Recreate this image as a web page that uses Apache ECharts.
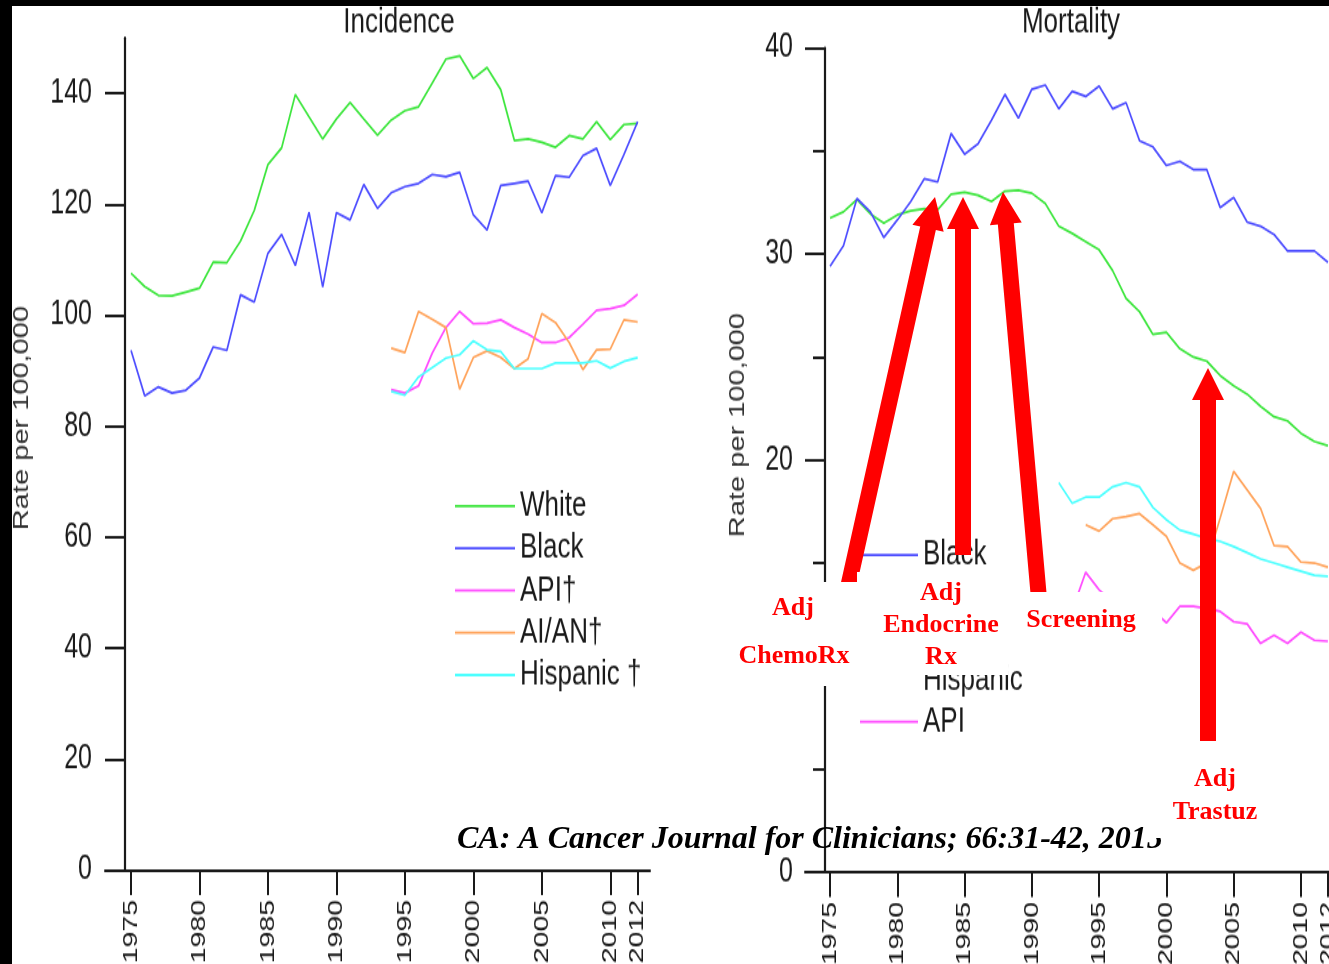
<!DOCTYPE html>
<html>
<head>
<meta charset="utf-8">
<title>Breast cancer incidence and mortality</title>
<script src="https://cdn.jsdelivr.net/npm/echarts@6/dist/echarts.min.js"></script>
<style>
  html, body { margin: 0; padding: 0; background: #fff; }
  #wrap { position: relative; width: 1329px; height: 964px; overflow: hidden; background: #fff; }
  #chart { position: absolute; left: 0; top: 0; width: 1329px; transform-origin: 0 0; }
  #notes { position: absolute; left: 0; top: 0; width: 1329px; height: 964px; }
</style>
</head>
<body>
<div id="wrap"><div id="chart"></div><div id="notes"></div></div>
<script>
// rates per 100,000
const incYears = [1975, 1976, 1977, 1978, 1979, 1980, 1981, 1982, 1983, 1984, 1985, 1986, 1987, 1988, 1989, 1990, 1991, 1992, 1993,
  1994, 1995, 1996, 1997, 1998, 1999, 2000, 2001, 2002, 2003, 2004, 2005, 2006, 2007, 2008, 2009, 2010, 2011, 2012];
const incWhite = [107.6, 105.2, 103.6, 103.5, 104.2, 104.9, 109.6, 109.5, 113.4, 118.9, 127.2, 130.2, 139.8, 135.8, 131.8, 135.4, 138.4, 135.4, 132.5,
  135.2, 136.9, 137.6, 141.9, 146.2, 146.8, 142.7, 144.7, 140.7, 131.5, 131.8, 131.2, 130.3, 132.4, 131.8, 134.9, 131.7, 134.4, 134.6];
const incBlack = [93.7, 85.5, 87.1, 86.0, 86.5, 88.7, 94.3, 93.7, 103.7, 102.4, 111.2, 114.6, 109.0, 118.6, 105.1, 118.5, 117.2, 123.6, 119.3,
  122.1, 123.2, 123.8, 125.4, 125.0, 125.8, 118.1, 115.4, 123.4, 123.8, 124.2, 118.5, 125.2, 124.9, 128.8, 130.1, 123.4, 129.0, 134.9];
const incOtherYears = [1994, 1995, 1996, 1997, 1998, 1999, 2000, 2001, 2002, 2003, 2004, 2005, 2006, 2007, 2008, 2009, 2010, 2011, 2012];
const incApi = [86.6, 86.0, 87.3, 93.2, 97.8, 100.7, 98.5, 98.6, 99.2, 97.8, 96.6, 95.1, 95.1, 96.0, 98.4, 100.9, 101.2, 101.8, 103.8];
const incAian = [94.1, 93.3, 100.7, 99.3, 97.8, 86.7, 92.4, 93.6, 92.4, 90.4, 92.2, 100.3, 98.7, 95.1, 90.2, 93.8, 93.9, 99.2, 98.8];
const incHisp = [86.3, 85.6, 88.9, 90.6, 92.3, 92.9, 95.4, 93.8, 93.5, 90.4, 90.4, 90.4, 91.4, 91.4, 91.4, 91.8, 90.5, 91.7, 92.4];

const mortYears = [1975, 1976, 1977, 1978, 1979, 1980, 1981, 1982, 1983, 1984, 1985, 1986, 1987, 1988, 1989, 1990, 1991, 1992, 1993,
  1994, 1995, 1996, 1997, 1998, 1999, 2000, 2001, 2002, 2003, 2004, 2005, 2006, 2007, 2008, 2009, 2010, 2011, 2012];
const mortWhite = [31.75, 32.05, 32.65, 31.95, 31.5, 31.9, 32.1, 32.2, 32.15, 32.9, 33.0, 32.85, 32.55, 33.05, 33.1, 32.95, 32.45, 31.35, 31.0,
  30.6, 30.2, 29.2, 27.85, 27.2, 26.1, 26.2, 25.4, 25.0, 24.8, 24.1, 23.6, 23.2, 22.6, 22.1, 21.9, 21.3, 20.9, 20.7];
const mortBlack = [29.4, 30.4, 32.7, 32.05, 30.8, 31.65, 32.55, 33.65, 33.5, 35.85, 34.85, 35.35, 36.5, 37.75, 36.6, 38.0, 38.2, 37.05, 37.9,
  37.65, 38.15, 37.05, 37.35, 35.5, 35.2, 34.3, 34.5, 34.1, 34.1, 32.25, 32.75, 31.55, 31.35, 30.95, 30.15, 30.15, 30.15, 29.6];
const mortHispYears = [1992, 1993, 1994, 1995, 1996, 1997, 1998, 1999, 2000, 2001, 2002, 2003, 2004, 2005, 2006, 2007, 2008, 2009, 2010, 2011, 2012];
const mortHisp = [18.9, 17.9, 18.2, 18.2, 18.7, 18.9, 18.7, 17.7, 17.1, 16.6, 16.4, 16.2, 16.05, 15.8, 15.5, 15.2, 15.0, 14.8, 14.6, 14.4, 14.35];
const mortAianYears = [1994, 1995, 1996, 1997, 1998, 1999, 2000, 2001, 2002, 2003, 2004, 2005, 2006, 2007, 2008, 2009, 2010, 2011, 2012];
const mortAian = [16.85, 16.55, 17.15, 17.25, 17.4, 16.85, 16.3, 15.0, 14.65, 15.0, 17.2, 19.45, 18.55, 17.65, 15.85, 15.8, 15.05, 15.0, 14.8];
const mortApiYears = [1992, 1993, 1994, 1995, 1996, 1997, 1998, 1999, 2000, 2001, 2002, 2003, 2004, 2005, 2006, 2007, 2008, 2009, 2010, 2011, 2012];
const mortApi = [12.9, 12.7, 14.55, 13.7, 13.1, 12.6, 12.9, 12.7, 12.1, 12.9, 12.9, 12.8, 12.65, 12.15, 12.05, 11.1, 11.5, 11.1, 11.65, 11.25, 11.2];

const yearTicks = [1975, 1980, 1985, 1990, 1995, 2000, 2005, 2010, 2012];
const incRateTicks = [0, 20, 40, 60, 80, 100, 120, 140];
const incLegend = ['White', 'Black', 'API†', 'AI/AN†', 'Hispanic †'];
const mortLegend = ['Black', 'White', 'AI/AN', 'Hispanic', 'API'];

// the source image is stretched vertically, so the plot layer is drawn short and scaled up
const S = 1.35;
const Y = v => v / S;
const ink = '#1a1a1a';
const sans = 'Liberation Sans';
const colors = { white: '#3ee63e', black: '#4d4dff', api: '#ff4dff', aian: '#ffa45c', hisp: '#4dffff' };

const pairs = (xs, ys) => xs.map((x, i) => [x, ys[i]]);
const line = (name, xi, xs, ys, color) => ({
  name: name, type: 'line', xAxisIndex: xi, yAxisIndex: xi,
  data: pairs(xs, ys), symbol: 'none', color: color,
  lineStyle: { width: 1.7, color: color }
});

const xAxisBase = (gi, min, max) => ({
  type: 'value', gridIndex: gi, min: min, max: max,
  axisLine: { lineStyle: { color: ink, width: 2 } },
  axisTick: { customValues: yearTicks, length: Y(25), lineStyle: { color: ink, width: 2 } },
  axisLabel: { customValues: yearTicks, rotate: 90, margin: Y(30), fontSize: 21, fontFamily: sans, color: ink,
    formatter: v => String(v) },
  splitLine: { show: false }
});

const legendBase = (names, left, centerY, width, gap) => ({
  data: names, orient: 'vertical', left: left, top: Y(centerY) - 13, padding: 0,
  icon: 'rect', itemWidth: width, itemHeight: 1.8, itemGap: gap,
  textStyle: { fontSize: 26, lineHeight: 26, fontFamily: sans, color: ink }
});

const chartDom = document.getElementById('chart');
chartDom.style.height = (964 / S) + 'px';
chartDom.style.transform = 'scaleY(' + S + ')';
const chart = echarts.init(chartDom);
chart.setOption({
  animation: false,
  backgroundColor: '#fff',
  grid: [
    { left: 105, top: Y(38), width: 545, height: Y(870) - Y(38), outerBoundsMode: 'none' },
    { left: 805, top: Y(48), width: 535, height: Y(872) - Y(48), outerBoundsMode: 'none' }
  ],
  xAxis: [xAxisBase(0, 1973.1, 2012.9), xAxisBase(1, 1973.14, 2012.9)],
  yAxis: [
    {
      type: 'value', gridIndex: 0, min: 0, max: 150, offset: -20,
      axisLine: { show: true, lineStyle: { color: ink, width: 2.2 } },
      axisTick: { show: true, customValues: incRateTicks, length: 20, lineStyle: { color: ink, width: 2 } },
      axisLabel: { customValues: incRateTicks, margin: 33, fontSize: 25, fontFamily: sans, color: ink },
      splitLine: { show: false }
    },
    {
      type: 'value', gridIndex: 1, min: 0, max: 40, interval: 10, offset: -20,
      axisLine: { show: true, lineStyle: { color: ink, width: 2.2 } },
      axisTick: { show: true, length: 20, lineStyle: { color: ink, width: 2 } },
      minorTick: { show: true, splitNumber: 2, length: 12, lineStyle: { color: ink, width: 2 } },
      axisLabel: { margin: 32, fontSize: 25, fontFamily: sans, color: ink },
      splitLine: { show: false }
    }
  ],
  legend: [
    legendBase(incLegend, 455, 506, 60, 5.3),
    legendBase(mortLegend, 860, 555, 58, 4.9)
  ],
  graphic: [
    { type: 'text', x: 399, y: Y(22.5), style: { text: 'Incidence', font: '26px "Liberation Sans"', fill: ink,
      align: 'center', verticalAlign: 'middle', textAlign: 'center', textVerticalAlign: 'middle' } },
    { type: 'text', x: 1071, y: Y(23), style: { text: 'Mortality', font: '26px "Liberation Sans"', fill: ink,
      align: 'center', verticalAlign: 'middle', textAlign: 'center', textVerticalAlign: 'middle' } },
    { type: 'text', x: 22, y: Y(418), rotation: Math.PI / 2, style: { text: 'Rate per 100,000', font: '21.5px "Liberation Sans"',
      fill: '#333', align: 'center', verticalAlign: 'middle', textAlign: 'center', textVerticalAlign: 'middle' } },
    { type: 'text', x: 738, y: Y(425), rotation: Math.PI / 2, style: { text: 'Rate per 100,000', font: '21.5px "Liberation Sans"',
      fill: '#333', align: 'center', verticalAlign: 'middle', textAlign: 'center', textVerticalAlign: 'middle' } }
  ],
  series: [
    line('White', 0, incYears, incWhite, colors.white),
    line('Black', 0, incYears, incBlack, colors.black),
    line('API†', 0, incOtherYears, incApi, colors.api),
    line('AI/AN†', 0, incOtherYears, incAian, colors.aian),
    line('Hispanic †', 0, incOtherYears, incHisp, colors.hisp),
    line('White', 1, mortYears, mortWhite, colors.white),
    line('Black', 1, mortYears, mortBlack, colors.black),
    line('AI/AN', 1, mortAianYears, mortAian, colors.aian),
    line('Hispanic', 1, mortHispYears, mortHisp, colors.hisp),
    line('API', 1, mortApiYears, mortApi, colors.api)
  ]
});

// annotation layer (drawn unstretched, on top)
function arrow(tip, tail) {
  const headLen = 32, headHalf = 16, shaftHalf = 8;
  const dx = tail[0] - tip[0], dy = tail[1] - tip[1];
  const len = Math.hypot(dx, dy);
  const ux = dx / len, uy = dy / len, px = -uy, py = ux;
  const bx = tip[0] + ux * headLen, by = tip[1] + uy * headLen;
  return {
    type: 'polygon', z: 1,
    shape: { points: [tip,
      [bx + px * headHalf, by + py * headHalf], [bx + px * shaftHalf, by + py * shaftHalf],
      [tail[0] + px * shaftHalf, tail[1] + py * shaftHalf], [tail[0] - px * shaftHalf, tail[1] - py * shaftHalf],
      [bx - px * shaftHalf, by - py * shaftHalf], [bx - px * headHalf, by - py * headHalf]] },
    style: { fill: '#ff0000' }
  };
}
const box = (x, y, w, h, fill, z) => ({ type: 'rect', z: z, shape: { x: x, y: y, width: w, height: h }, style: { fill: fill } });
const redText = (t, x, y) => ({
  type: 'text', z: 4, x: x, y: y,
  style: { text: t, font: 'bold 26px "Liberation Serif"', fill: '#ff0000',
    align: 'center', verticalAlign: 'middle', textAlign: 'center', textVerticalAlign: 'middle' }
});

const notes = echarts.init(document.getElementById('notes'));
notes.setOption({
  animation: false,
  graphic: { elements: [
    arrow([935, 197], [843, 610]),
    arrow([963, 197], [963, 555]),
    arrow([1003, 192], [1040, 610]),
    arrow([1208, 368], [1208, 741]),
    { type: 'text', z: 2, x: 457, y: 840,
      style: { text: 'CA: A Cancer Journal for Clinicians; 66:31-42, 2015', font: 'italic bold 32px "Liberation Serif"', fill: '#000',
        align: 'left', verticalAlign: 'middle', textAlign: 'left', textVerticalAlign: 'middle' } },
    box(722, 582, 198, 104, '#fff', 3),
    box(857, 572, 151, 103, '#fff', 3),
    box(1008, 592, 154, 56, '#fff', 3),
    box(1148, 760, 134, 78, '#fff', 3),
    redText('Adj', 793, 608),
    redText('ChemoRx', 794, 656),
    redText('Adj', 941, 593),
    redText('Endocrine', 941, 625),
    redText('Rx', 941, 657),
    redText('Screening', 1081, 620),
    redText('Adj', 1215, 779),
    redText('Trastuz', 1215, 812),
    box(0, 0, 1329, 6, '#000', 5),
    box(0, 0, 12, 964, '#000', 5)
  ] }
});
</script>
</body>
</html>
